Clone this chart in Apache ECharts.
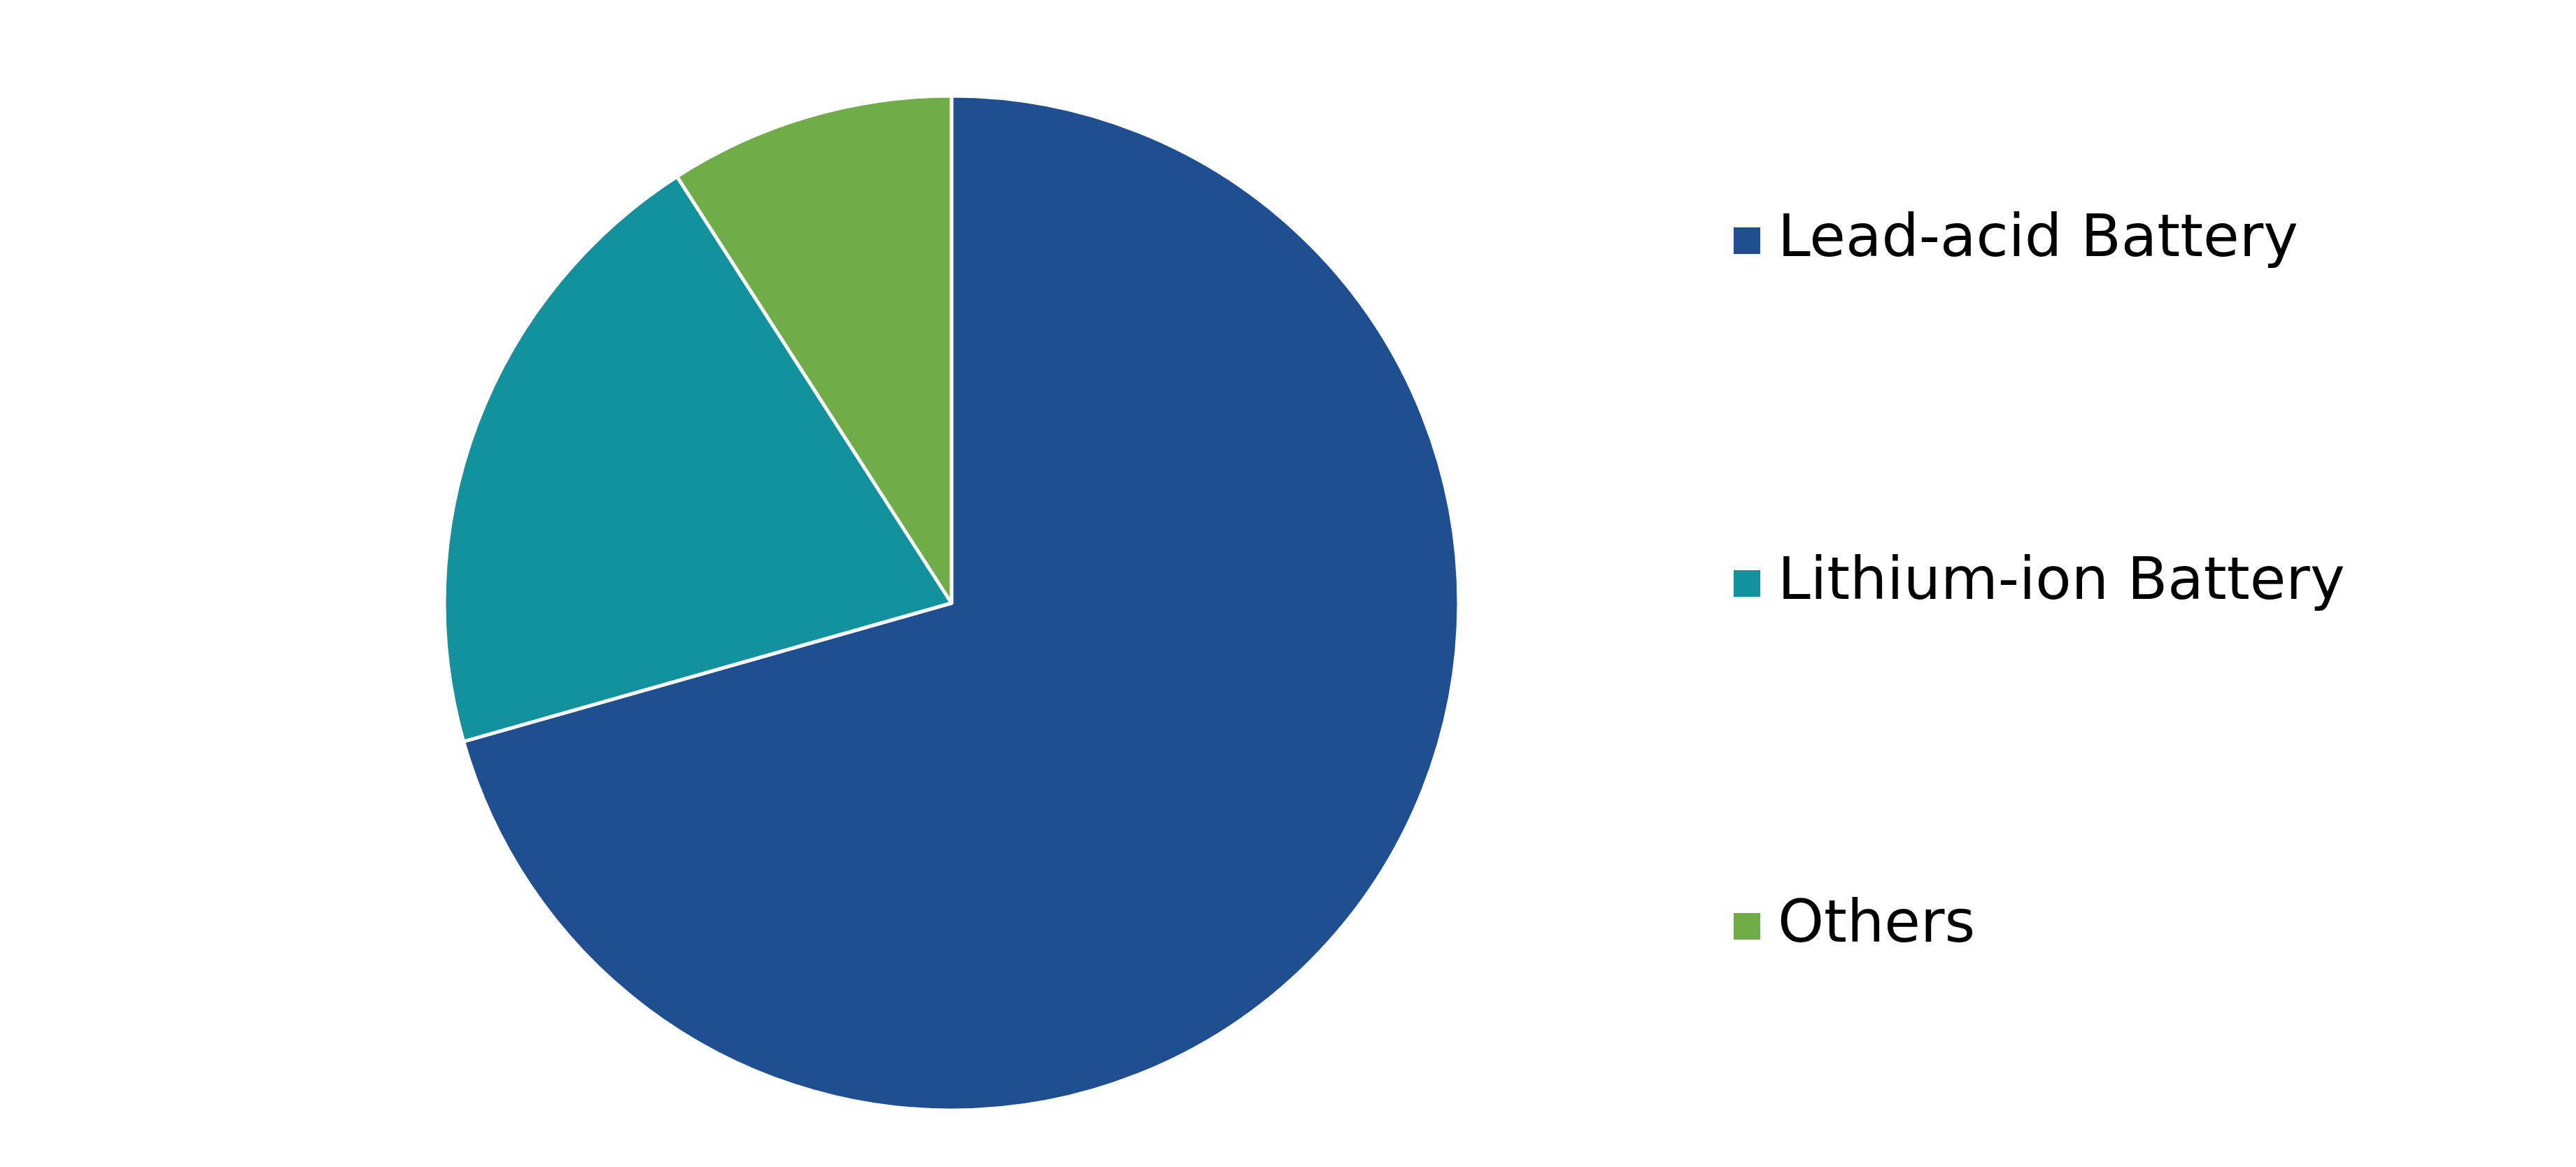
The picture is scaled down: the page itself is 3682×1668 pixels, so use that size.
<!DOCTYPE html>
<html>
<head>
<meta charset="utf-8">
<script src="https://cdn.jsdelivr.net/npm/echarts@6/dist/echarts.min.js"></script>
<style>html,body{margin:0;padding:0;background:#fff;}#c{width:3682px;height:1668px;}</style>
</head>
<body>
<div id="c"></div>
<script>
const categories = ["Lead-acid Battery", "Lithium-ion Battery", "Others"];
const values = [70.6, 20.3, 9.1];
const colors = ["#1F4E91", "#13929E", "#70AC47"];

const chart = echarts.init(document.getElementById('c'), null, {renderer: 'canvas'});
chart.setOption({
  backgroundColor: '#ffffff',
  animation: false,
  color: colors,
  legend: {
    orient: 'vertical',
    left: 2476,
    top: 294,
    padding: 0,
    itemWidth: 40,
    itemHeight: 40,
    itemGap: 390,
    icon: 'rect',
    selectedMode: false,
    textStyle: {
      fontFamily: 'DejaVu Sans',
      fontSize: 84,
      color: '#000000',
      lineHeight: 100,
      padding: [0, 0, 0, 19]
    },
    data: categories
  },
  series: [{
    type: 'pie',
    center: [1360, 862],
    radius: 725,
    startAngle: 90,
    clockwise: true,
    label: {show: false},
    labelLine: {show: false},
    emphasis: {disabled: true},
    itemStyle: {borderColor: '#ffffff', borderWidth: 5},
    data: categories.map((n, i) => ({name: n, value: values[i]}))
  }]
});
</script>
</body>
</html>
